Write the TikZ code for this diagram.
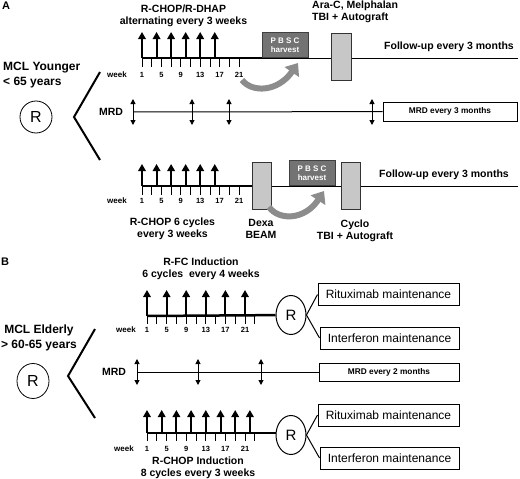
\documentclass[tikz,border=0pt]{standalone}
\usepackage{fontspec}
\setmainfont{Liberation Sans}
\usetikzlibrary{arrows.meta,shapes.geometric}

\begin{document}
\begin{tikzpicture}[
    x=1pt, y=-1pt, % pixel grid, y grows downwards
    > = {Triangle[width=7.5pt,length=7pt]}, % arrow head style
    txt/.style ={font=\bfseries\fontsize{10.5}{12}\selectfont, align=center, inner sep=0pt},
    arm/.style ={font=\bfseries\fontsize{12}{15}\selectfont, inner sep=0pt},
    wk/.style ={font=\bfseries\fontsize{7.5}{8}\selectfont, inner sep=0pt},
    rbig/.style ={draw, ellipse, line width=0.8pt, minimum width=32pt, minimum height=32pt, inner sep=0pt, font=\fontsize{16}{16}\selectfont},
    rsmall/.style ={draw, ellipse, line width=1pt, minimum width=30pt, minimum height=39pt, inner sep=0pt, font=\fontsize{15}{15}\selectfont},
    maint/.style ={draw, line width=1pt, minimum height=22pt, inner sep=0pt, font=\fontsize{12}{14}\selectfont},
    mrdbox/.style ={draw, line width=1pt, minimum height=19pt, inner sep=0pt, font=\bfseries\fontsize{8.3}{9}\selectfont},
    pbsc/.style ={draw=black!75, fill=black!55, text=white, minimum width=46pt, minimum height=25pt, inner sep=0pt, align=center, font=\bfseries\fontsize{8}{9.5}\selectfont},
    regimen/.style ={draw=black!80, fill=black!22, line width=0.8pt, minimum width=20pt, minimum height=47pt, inner sep=0pt},
    dose/.style ={->, line width=2pt},
    mrd/.style ={{Triangle[width=5pt,length=5pt]}-{Triangle[width=5pt,length=5pt]}, line width=1pt},
    tick/.style ={line width=0.8pt},
    harvest/.style ={-{Triangle[width=17pt,length=11pt]}, line width=6pt, draw=black!45},
]
\useasboundingbox (0,0) rectangle (520,479);

% ---------------- A : younger patients
\node[font=\bfseries\fontsize{11}{11}\selectfont] (A) at (6,6) {A};
\node[arm, anchor=west, align=left] (young) at (3,75) {MCL Younger\\< 65 years};
\node[rbig] (Ra) at (36,117) {R};
\draw[line width=2pt] (100,72) coordinate (ya) -- (74,117) coordinate (yv) -- (100,160) coordinate (yb);

% arm 1
\coordinate (a1) at (142,58);
\draw[line width=1pt] (a1) -- (518,58) coordinate (a1e);
\draw[line width=2.5pt] (a1) -- (263,58) coordinate (a1h);
\foreach \w in {1,3,...,21} \draw[tick] ([xshift={(\w-1)*4.85pt}]a1) -- ++(0,9);
\foreach \w in {1,5,...,21} \node[wk] at ([xshift={(\w-1)*4.85pt}, yshift=-17pt]a1) {\w};
\foreach \w in {1,4,...,16} \draw[dose] ([xshift={(\w-1)*4.85pt}]a1) -- ++(0,-26);
\node[wk, font=\bfseries\fontsize{8}{8}\selectfont] (wa1) at (117,75) {week};
\node[pbsc] (pa1) at (285,45) {P B S C\\harvest};
\node[regimen] (ga1) at (341.5,56.5) {};
\draw[harvest] (242,80) coordinate (ha1) .. controls (252,93) and (278,92) .. (298,63);
\node[txt] (ta1) at (183.5,16) {R-CHOP/R-DHAP\\alternating every 3 weeks};
\node[txt, anchor=west, align=left] (ara) at (312,12) {Ara-C, Melphalan\\TBI + Autograft};
\node[txt] (fa1) at (449,47) {Follow-up every 3 months};

% MRD
\node[txt] (mrda) at (111,112) {MRD};
\coordinate (ma) at (133,112);
\node[mrdbox, minimum width=134pt] (mba) at (450,111.5) {MRD every 3 months};
\draw[line width=1pt] (ma) -- (mba);
\foreach \x in {0,59,96,239} \draw[mrd] ([xshift=\x pt, yshift=13pt]ma) -- ++(0,26);

% arm 2
\coordinate (a2) at (142,186);
\draw[line width=1pt] (a2) -- (518,186) coordinate (a2e);
\draw[line width=2.5pt] (a2) -- (253,186) coordinate (a2h);
\foreach \w in {1,3,...,21} \draw[tick] ([xshift={(\w-1)*4.85pt}]a2) -- ++(0,9);
\foreach \w in {1,5,...,21} \node[wk] at ([xshift={(\w-1)*4.85pt}, yshift=-15pt]a2) {\w};
\foreach \w in {1,4,...,16} \draw[dose] ([xshift={(\w-1)*4.85pt}]a2) -- ++(0,-22);
\node[wk, font=\bfseries\fontsize{8}{8}\selectfont] (wa2) at (117,201) {week};
\node[regimen, minimum width=19pt] (dexa) at (262,186) {};
\node[pbsc] (pa2) at (312,173) {P B S C\\harvest};
\node[regimen, minimum width=19pt] (cyclo) at (351,186) {};
\draw[harvest] (269,207) coordinate (ha2) .. controls (279,221) and (305,220) .. (324,191);
\node[txt] (fa2) at (444,175) {Follow-up every 3 months};
\node[txt] (ta2) at (172.5,229) {R-CHOP 6 cycles\\every 3 weeks};
\node[txt] (tdexa) at (261,229) {Dexa\\BEAM};
\node[txt] (tcyclo) at (355,231) {Cyclo\\TBI + Autograft};

% ---------------- B : elderly patients
\node[font=\bfseries\fontsize{11}{11}\selectfont] (B) at (5,262) {B};
\node[arm, align=center] (old) at (39,337.5) {MCL Elderly\\> 60-65 years};
\node[rbig, minimum height=35pt] (Rb) at (33,381) {R};
\draw[line width=2pt] (95,329) coordinate (ea) -- (68,376) coordinate (ev) -- (95,418) coordinate (eb);

% arm 1
\coordinate (b1) at (147,316);
\node[rsmall] (rb1) at (291,315) {R};
\draw[line width=2.5pt] (b1) -- (rb1);
\foreach \w in {1,3,...,23} \draw[tick] ([xshift={(\w-1)*4.9pt}]b1) -- ++(0,8);
\foreach \w in {1,5,...,21} \node[wk] at ([xshift={(\w-1)*4.9pt}, yshift=-14pt]b1) {\w};
\foreach \w in {1,5,...,21} \draw[dose] ([xshift={(\w-1)*4.9pt}]b1) -- ++(0,-26);
\node[wk, font=\bfseries\fontsize{8}{8}\selectfont] (wb1) at (126,330) {week};
\node[txt] (tb1) at (201,268.5) {R-FC Induction\\6 cycles\ \ every 4 weeks};
\node[maint, minimum width=141pt] (rit1) at (388.5,294.5) {Rituximab maintenance};
\node[maint, minimum width=139pt] (ifn1) at (389.5,338) {Interferon maintenance};
\draw[line width=1pt] (rb1.east) -- (rit1.west);
\draw[line width=1pt] (rb1.east) -- (ifn1.west);

% MRD
\node[txt] (mrdb) at (114,372) {MRD};
\coordinate (mb) at (137,372);
\node[mrdbox, minimum width=140pt, minimum height=18pt] (mbb) at (389,372) {MRD every 2 months};
\draw[line width=0.8pt] (mb) -- (mbb);
\foreach \x in {0,61,124} \draw[mrd] ([xshift=\x pt, yshift=13pt]mb) -- ++(0,26);

% arm 2
\coordinate (b2) at (147,433);
\node[rsmall] (rb2) at (291,435) {R};
\draw[line width=2.5pt] (b2) -- (b2 -| rb2.west);
\foreach \w in {1,3,...,23} \draw[tick] ([xshift={(\w-1)*4.9pt}]b2) -- ++(0,8);
\foreach \w in {1,5,...,21} \node[wk] at ([xshift={(\w-1)*4.9pt}, yshift=-16pt]b2) {\w};
\foreach \w in {1,4,...,22} \draw[dose] ([xshift={(\w-1)*4.9pt}]b2) -- ++(0,-23);
\node[wk, font=\bfseries\fontsize{8}{8}\selectfont] (wb2) at (124,449) {week};
\node[txt] (tb2) at (198,467.5) {R-CHOP Induction\\8 cycles every 3 weeks};
\node[maint, minimum width=141pt] (rit2) at (388.5,415) {Rituximab maintenance};
\node[maint, minimum width=139pt] (ifn2) at (389.5,458) {Interferon maintenance};
\draw[line width=1pt] (rb2.east) -- (rit2.west);
\draw[line width=1pt] (rb2.east) -- (ifn2.west);
\end{tikzpicture}
\end{document}
